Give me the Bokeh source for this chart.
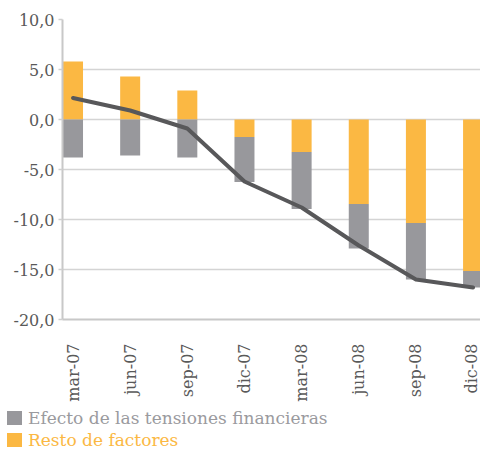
from bokeh.plotting import figure
from bokeh.layouts import column
from bokeh.models import Range1d, FixedTicker, Div
from bokeh.embed import file_html
from bokeh.resources import INLINE
from math import pi

months = ["mar-07", "jun-07", "sep-07", "dic-07", "mar-08", "jun-08", "sep-08", "dic-08"]
tensiones = [-3.8, -3.6, -3.8, -4.5, -5.7, -4.45, -5.65, -1.65]
resto = [5.8, 4.3, 2.9, -1.75, -3.25, -8.45, -10.35, -15.15]
total = [2.15, 0.9, -0.9, -6.2, -8.8, -12.6, -16.0, -16.8]
y_ticks = [-20, -15, -10, -5, 0, 5, 10]
y_tick_labels = ["-20,0", "-15,0", "-10,0", "-5,0", "0,0", "5,0", "10,0"]
series_names = ["Efecto de las tensiones financieras", "Resto de factores"]

GREY = "#98989c"
ORANGE = "#fbb843"
FONT = "DejaVu Serif"

xs = list(range(len(months)))
grey_bottom = [min(r, 0) for r in resto]
grey_top = [b + t for b, t in zip(grey_bottom, tensiones)]

p = figure(width=480, height=404, output_backend="svg", toolbar_location=None,
           x_range=Range1d(-0.184, 7.13), y_range=Range1d(-20, 10),
           min_border_left=62, min_border_right=0, min_border_top=19, min_border_bottom=81)
p.outline_line_color = None
p.background_fill_color = "white"
p.border_fill_color = "white"

p.vbar(x=xs, top=resto, bottom=0, width=0.35, fill_color=ORANGE, line_color=None)
p.vbar(x=xs, top=grey_top, bottom=grey_bottom, width=0.35, fill_color=GREY, line_color=None)
p.line(xs, total, line_color="#58585a", line_width=4, line_cap="round", line_join="round")

# y axis
p.yaxis.ticker = FixedTicker(ticks=y_ticks)
p.yaxis.major_label_overrides = dict(zip(y_ticks, y_tick_labels))
p.yaxis.axis_line_color = "#c8c8c8"
p.yaxis.axis_line_width = 2
p.yaxis.major_tick_line_color = "#d0d0d0"
p.yaxis.major_tick_line_width = 1.5
p.yaxis.major_tick_out = 4
p.yaxis.major_tick_in = 0
p.yaxis.minor_tick_line_color = None
p.yaxis.major_label_standoff = 4
p.yaxis.major_label_text_font = FONT
p.yaxis.major_label_text_font_size = "16px"
p.yaxis.major_label_text_color = "#595959"

# x axis
p.xaxis.ticker = FixedTicker(ticks=xs)
p.xaxis.major_label_overrides = dict(zip(xs, months))
p.xaxis.major_label_orientation = pi / 2
p.xaxis.axis_line_color = "#c8c8c8"
p.xaxis.axis_line_width = 2
p.xaxis.major_tick_line_color = None
p.xaxis.minor_tick_line_color = None
p.xaxis.major_label_standoff = 18
p.xaxis.major_label_text_font = FONT
p.xaxis.major_label_text_font_size = "16px"
p.xaxis.major_label_text_color = "#595959"

p.xgrid.grid_line_color = None
p.ygrid.ticker = FixedTicker(ticks=y_ticks)
p.ygrid.grid_line_color = "#d4d4d4"
p.ygrid.grid_line_width = 1.5

# legend below the chart
def row_html(name, box_color, text_color, top):
    return (
        f'<div style="position:absolute;left:7px;top:{top}px;height:14px;display:flex;'
        f'align-items:center;white-space:nowrap;">'
        f'<span style="display:inline-block;width:15px;height:14px;background:{box_color};"></span>'
        f'<span style="margin-left:6px;color:{text_color};font-family:\'{FONT}\';'
        f'font-size:17px;line-height:14px;">{name}</span></div>'
    )

legend_html = (
    '<div style="position:relative;width:480px;height:44px;overflow:visible;">'
    + row_html(series_names[0], GREY, "#9a9a9e", 7)
    + row_html(series_names[1], ORANGE, ORANGE, 29)
    + '</div>'
)
leg = Div(text=legend_html, width=480, height=44, margin=0)

open("out.html", "w").write(file_html(column(p, leg, spacing=0), INLINE))
